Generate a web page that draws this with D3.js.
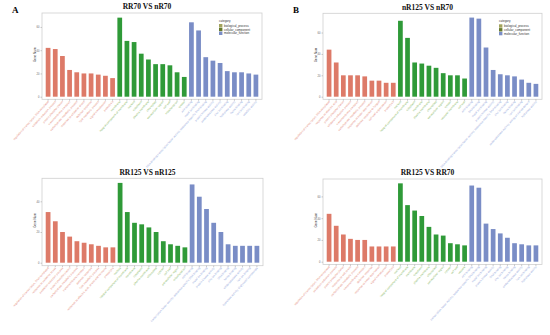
<!DOCTYPE html>
<html>
<head>
<meta charset="utf-8">
<script src="https://cdn.jsdelivr.net/npm/d3@7"></script>
<style>
  body { margin: 0; background: #fff; }
  svg { display: block; }
</style>
</head>
<body>
<div id="chart"></div>
<script>
// GO categories and their colours
var categories = ["biological_process", "cellular_component", "molecular_function"];
var barColors = ["#dd7a68", "#2f9a38", "#7a8dc6"];
var labelColors = ["#e58c7b", "#86b65c", "#93a6da"];
var legendColors = ["#a3a35c", "#667a2c", "#7a8dc6"];

var titles = ["RR70 VS nR70", "nR125 VS nR70", "RR125 VS nR125", "RR125 VS RR70"];
var letters = ["A", "B", "", ""];
var yTicks = [0, 20, 40, 60];

// terms (10 BP, 10 CC, 10 MF per panel)
var termsA = [
  "regulation of transcription, DNA-templated", "oxidation-reduction process", "protein phosphorylation",
  "transmembrane transport", "carbohydrate metabolic process", "response to oxidative stress",
  "defense response", "lipid metabolic process", "signal transduction", "proteolysis",
  "membrane", "integral component of membrane", "nucleus", "cytoplasm", "plasma membrane",
  "chloroplast", "extracellular region", "cell wall", "mitochondrion", "cytosol",
  "ATP binding", "metal ion binding", "DNA-binding transcription factor activity, sequence-specific DNA binding",
  "protein kinase activity", "oxidoreductase activity", "zinc ion binding", "hydrolase activity",
  "heme binding", "iron ion binding", "catalytic activity"
];
var countsA = [42, 41, 35, 23, 21, 20, 20, 19, 18, 16,
               68, 48, 47, 37, 32, 28, 28, 27, 21, 17,
               64, 57, 34, 31, 29, 22, 21, 21, 20, 19];

var termsB = [
  "regulation of transcription, DNA-templated", "response to abscisic acid", "protein phosphorylation",
  "oxidation-reduction process", "transmembrane transport", "carbohydrate metabolic process",
  "response to water deprivation", "defense response to fungus", "cell wall organization", "proteolysis",
  "nucleus", "integral component of membrane", "cytoplasm", "membrane", "plasma membrane",
  "chloroplast", "extracellular region", "cytosol", "vacuolar membrane", "cell wall",
  "ATP binding", "DNA binding", "metal ion binding", "protein kinase activity",
  "DNA-binding transcription factor activity, sequence-specific DNA binding", "zinc ion binding",
  "heme binding", "iron ion binding", "oxidoreductase activity, acting on paired donors", "hydrolase activity"
];
var countsB = [44, 32, 20, 20, 20, 19, 15, 15, 13, 13,
               71, 55, 32, 31, 29, 27, 22, 20, 20, 17,
               74, 73, 46, 25, 21, 20, 19, 16, 13, 12];

var termsC = [
  "regulation of transcription, DNA-templated", "response to oxidative stress", "oxidation-reduction process",
  "protein phosphorylation", "carbohydrate metabolic process", "transmembrane transport",
  "defense response", "lipid metabolic process", "response to abscisic acid, stress and hormone", "proteolysis",
  "nucleus", "integral component of membrane", "membrane", "cytoplasm", "plasma membrane",
  "chloroplast", "cytosol", "cell wall", "extracellular region", "mitochondrion",
  "ATP binding", "transcription factor activity, sequence-specific DNA binding", "metal ion binding",
  "protein kinase activity", "zinc ion binding", "DNA binding", "heme binding",
  "oxidoreductase activity", "iron ion binding", "hydrolase activity, O-glycosyl compounds"
];
var countsC = [33, 27, 20, 17, 14, 13, 12, 11, 10, 10,
               52, 33, 26, 25, 23, 20, 14, 12, 11, 10,
               51, 43, 35, 26, 20, 12, 11, 11, 11, 11];

var termsD = [
  "regulation of transcription, DNA-templated", "oxidation-reduction process", "protein phosphorylation",
  "response to salt stress", "carbohydrate metabolic process", "transmembrane transport",
  "defense response", "response to water deprivation", "signal transduction", "proteolysis",
  "nucleus", "integral component of membrane", "membrane", "cytoplasm", "plasma membrane",
  "chloroplast", "extracellular region", "cytosol", "cell wall", "vacuole",
  "ATP binding", "transcription factor activity, sequence-specific DNA binding", "metal ion binding",
  "protein kinase activity", "DNA binding", "zinc ion binding",
  "heme binding", "oxidoreductase activity", "iron ion binding", "hydrolase activity"
];
var countsD = [44, 33, 25, 21, 20, 20, 14, 14, 14, 14,
               72, 52, 47, 42, 32, 25, 24, 17, 16, 15,
               70, 68, 35, 30, 26, 22, 17, 16, 15, 15];

var allTerms = [termsA, termsB, termsC, termsD];
var allCounts = [countsA, countsB, countsC, countsD];

// panel frames (layout only)
var frames = [
  {left: 42, right: 262, top: 13, bottom: 99.3, base: 96.7, ymax: 72, legend: true},
  {left: 323, right: 542, top: 13.3, bottom: 99.3, base: 96.7, ymax: 78, legend: true},
  {left: 42, right: 263, top: 178.3, bottom: 265.7, base: 262.7, ymax: 55, legend: false},
  {left: 323, right: 542, top: 179, bottom: 264.5, base: 261.7, ymax: 76, legend: false}
];

var svg = d3.select("#chart").append("svg")
  .attr("width", 550)
  .attr("height", 335);

frames.forEach(function(f, p) {
  var terms = allTerms[p];
  var counts = allCounts[p];
  var data = counts.map(function(c, i) {
    return {term: terms[i], count: c, cat: Math.floor(i / 10), idx: i};
  });

  var g = svg.append("g");

  var x = d3.scaleBand()
    .domain(data.map(function(d) { return d.idx; }))
    .range([f.left + 3, f.right - 3])
    .paddingInner(0.34)
    .paddingOuter(0.1);

  var y = d3.scaleLinear()
    .domain([0, f.ymax])
    .range([f.base, f.top]);

  // frame
  g.append("rect")
    .attr("x", f.left)
    .attr("y", f.top)
    .attr("width", f.right - f.left)
    .attr("height", f.bottom - f.top)
    .attr("fill", "#fff")
    .attr("stroke", "#cfcfcf")
    .attr("stroke-width", 0.8);

  // y axis
  var yAxis = d3.axisLeft(y)
    .tickValues(yTicks.filter(function(t) { return t <= f.ymax; }))
    .tickSize(1.5)
    .tickPadding(1);
  var ya = g.append("g")
    .attr("transform", "translate(" + f.left + ",0)")
    .call(yAxis);
  ya.select(".domain").remove();
  ya.selectAll("line").attr("stroke", "#999").attr("stroke-width", 0.5);
  ya.selectAll("text")
    .attr("font-size", 2.6)
    .attr("font-family", "Liberation Sans, Arial, sans-serif")
    .attr("fill", "#666");

  g.append("text")
    .attr("transform", "translate(" + (f.left - 6) + "," + ((f.top + f.base) / 2) + ") rotate(-90)")
    .attr("text-anchor", "middle")
    .attr("font-size", 3)
    .attr("font-family", "Liberation Sans, Arial, sans-serif")
    .attr("fill", "#333")
    .text("Gene Num");

  // bars
  g.selectAll(".bar")
    .data(data)
    .enter()
    .append("rect")
    .attr("class", "bar")
    .attr("x", function(d) { return x(d.idx); })
    .attr("y", function(d) { return y(d.count); })
    .attr("width", x.bandwidth())
    .attr("height", function(d) { return y(0) - y(d.count); })
    .attr("fill", function(d) { return barColors[d.cat]; });

  // x ticks
  g.selectAll(".xtick")
    .data(data)
    .enter()
    .append("line")
    .attr("x1", function(d) { return x(d.idx) + x.bandwidth() / 2; })
    .attr("x2", function(d) { return x(d.idx) + x.bandwidth() / 2; })
    .attr("y1", f.bottom)
    .attr("y2", f.bottom + 1.5)
    .attr("stroke", "#999")
    .attr("stroke-width", 0.5);

  // rotated term labels
  g.selectAll(".xlab")
    .data(data)
    .enter()
    .append("text")
    .attr("transform", function(d) {
      return "translate(" + (x(d.idx) + x.bandwidth() / 2 + 1) + "," + (f.bottom + 2.5) + ") rotate(-48)";
    })
    .attr("text-anchor", "end")
    .attr("font-size", 2.8)
    .attr("font-family", "Liberation Sans, Arial, sans-serif")
    .attr("fill", function(d) { return labelColors[d.cat]; })
    .text(function(d) { return d.term; });

  // title
  g.append("text")
    .attr("x", (f.left + f.right) / 2 - 5)
    .attr("y", f.top - 3.8)
    .attr("text-anchor", "middle")
    .attr("font-size", 7.5)
    .attr("font-weight", "bold")
    .attr("font-family", "Liberation Serif, Times New Roman, serif")
    .attr("fill", "#111")
    .text(titles[p]);

  if (letters[p]) {
    g.append("text")
      .attr("x", f.left - 30)
      .attr("y", 13)
      .attr("font-size", 9)
      .attr("font-weight", "bold")
      .attr("font-family", "Liberation Serif, Times New Roman, serif")
      .attr("fill", "#000")
      .text(letters[p]);
  }

  // legend
  if (f.legend) {
    var lg = g.append("g")
      .attr("transform", "translate(" + (f.right - 43) + "," + (f.top + 9) + ")");
    lg.append("text")
      .attr("x", 0)
      .attr("y", 0)
      .attr("font-size", 3)
      .attr("font-family", "Liberation Sans, Arial, sans-serif")
      .attr("fill", "#333")
      .text("category");
    var items = lg.selectAll(".li")
      .data(categories)
      .enter()
      .append("g")
      .attr("transform", function(d, i) { return "translate(0," + (2 + i * 3.8) + ")"; });
    items.append("rect")
      .attr("width", 3.4)
      .attr("height", 3.4)
      .attr("fill", function(d, i) { return legendColors[i]; });
    items.append("text")
      .attr("x", 5)
      .attr("y", 2.7)
      .attr("font-size", 3)
      .attr("font-family", "Liberation Sans, Arial, sans-serif")
      .attr("fill", "#333")
      .text(function(d) { return d; });
  }
});
</script>
</body>
</html>
